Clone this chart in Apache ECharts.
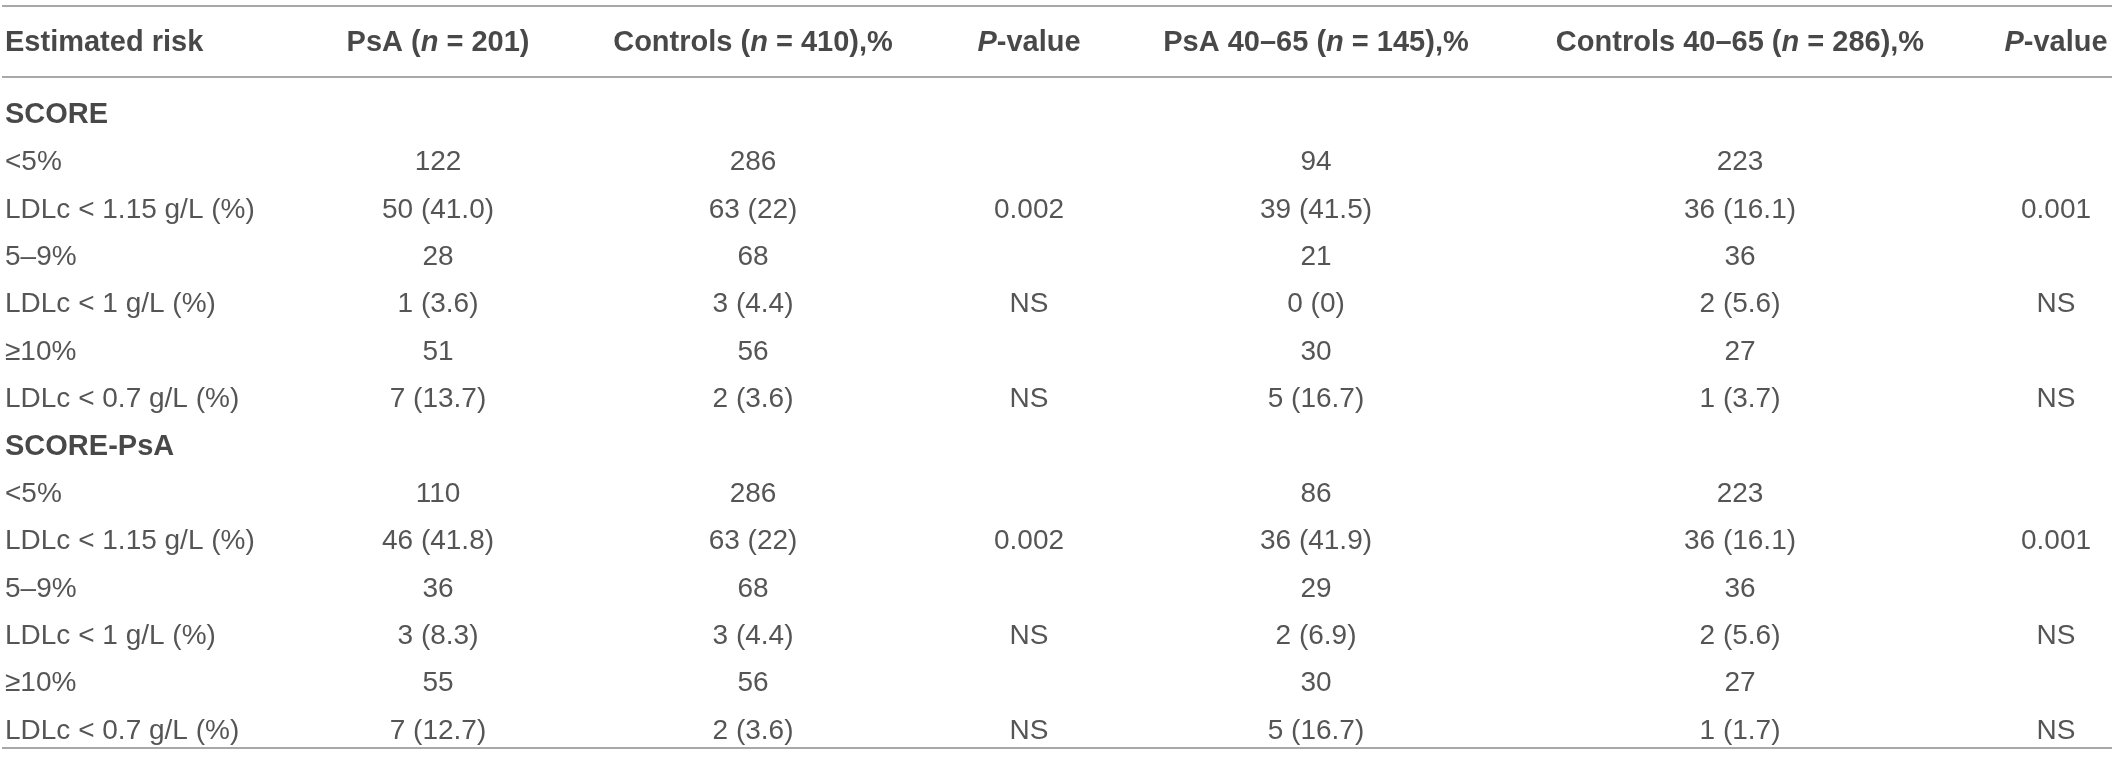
<!DOCTYPE html>
<html>
<head>
<meta charset="utf-8">
<title>Estimated risk table</title>
<script src="https://cdn.jsdelivr.net/npm/echarts@6/dist/echarts.min.js"></script>
<style>
  html, body { margin: 0; padding: 0; background: #fff; }
  #main { width: 2117px; height: 769px; }
</style>
</head>
<body>
<div id="main"></div>
<script>
// header cells ({i|..} = italic)
var headers = ['Estimated risk', 'PsA ({i|n} = 201)', 'Controls ({i|n} = 410),%', '{i|P}-value',
    'PsA 40–65 ({i|n} = 145),%', 'Controls 40–65 ({i|n} = 286),%', '{i|P}-value'];

var rowLabels = ['SCORE', '<5%', 'LDLc < 1.15 g/L (%)', '5–9%', 'LDLc < 1 g/L (%)', '≥10%', 'LDLc < 0.7 g/L (%)',
    'SCORE-PsA', '<5%', 'LDLc < 1.15 g/L (%)', '5–9%', 'LDLc < 1 g/L (%)', '≥10%', 'LDLc < 0.7 g/L (%)'];
var sectionRows = [0, 7];

var psa = ['', '122', '50 (41.0)', '28', '1 (3.6)', '51', '7 (13.7)',
    '', '110', '46 (41.8)', '36', '3 (8.3)', '55', '7 (12.7)'];
var controls = ['', '286', '63 (22)', '68', '3 (4.4)', '56', '2 (3.6)',
    '', '286', '63 (22)', '68', '3 (4.4)', '56', '2 (3.6)'];
var pValue = ['', '', '0.002', '', 'NS', '', 'NS',
    '', '', '0.002', '', 'NS', '', 'NS'];
var psa4065 = ['', '94', '39 (41.5)', '21', '0 (0)', '30', '5 (16.7)',
    '', '86', '36 (41.9)', '29', '2 (6.9)', '30', '5 (16.7)'];
var controls4065 = ['', '223', '36 (16.1)', '36', '2 (5.6)', '27', '1 (3.7)',
    '', '223', '36 (16.1)', '36', '2 (5.6)', '27', '1 (1.7)'];
var pValue4065 = ['', '', '0.001', '', 'NS', '', 'NS',
    '', '', '0.001', '', 'NS', '', 'NS'];

// layout: column anchors (x axis units = px), rules in row units
var colX = [5, 438, 753, 1029, 1316, 1740, 2056];
var HEADER_ROW = -1.52;
var RULES = [-2.30, -0.80, 13.35];

var columns = [rowLabels, psa, controls, pValue, psa4065, controls4065, pValue4065];
var FONT = '"Liberation Sans", Arial, sans-serif';

var series = [];

// header row + horizontal rules
series.push({
    type: 'scatter',
    symbolSize: 0,
    silent: true,
    data: headers.map(function (h, c) {
        return { value: [colX[c], HEADER_ROW, h], label: { align: c === 0 ? 'left' : 'center' } };
    }),
    label: {
        show: true,
        position: 'inside',
        formatter: function (p) { return p.data.value[2]; },
        fontFamily: FONT,
        fontSize: 29,
        fontWeight: 'bold',
        color: '#1a1a1a',
        rich: {
            i: { fontFamily: FONT, fontSize: 29, fontWeight: 'bold', fontStyle: 'italic', color: '#1a1a1a' }
        }
    },
    markLine: {
        silent: true,
        symbol: 'none',
        animation: false,
        label: { show: false },
        lineStyle: { color: '#a8a8a8', width: 2, type: 'solid' },
        data: RULES.map(function (r) { return { yAxis: r }; })
    }
});

columns.forEach(function (col, c) {
    var data = [];
    col.forEach(function (txt, i) {
        if (txt === '') return;
        var item = { value: [colX[c], i, txt] };
        if (c === 0 && sectionRows.indexOf(i) >= 0) {
            item.label = { fontWeight: 'bold', fontSize: 29, color: '#1a1a1a' };
        }
        data.push(item);
    });
    series.push({
        type: 'scatter',
        symbolSize: 0,
        silent: true,
        data: data,
        label: {
            show: true,
            position: 'inside',
            align: c === 0 ? 'left' : 'center',
            formatter: function (p) { return p.data.value[2]; },
            fontFamily: FONT,
            fontSize: 28,
            color: '#2a2a2a'
        }
    });
});

var option = {
    animation: false,
    backgroundColor: '#ffffff',
    grid: { left: 2, right: 5, top: 0, bottom: 0 },
    xAxis: { type: 'value', min: 2, max: 2112, show: false },
    yAxis: { type: 'value', inverse: true, min: -2.426, max: 13.798, show: false },
    series: series
};

var chart = echarts.init(document.getElementById('main'));
chart.setOption(option);
</script>
</body>
</html>
